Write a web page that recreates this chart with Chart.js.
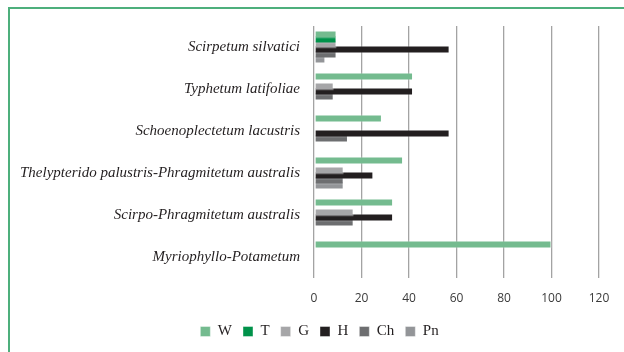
<!DOCTYPE html>
<html>
<head>
<meta charset="utf-8">
<script src="https://cdn.jsdelivr.net/npm/chart.js@4/dist/chart.umd.min.js"></script>
<style>
    html, body { margin: 0; padding: 0; background: #ffffff; }
    #frame {
        position: absolute;
        left: 8px;
        top: 7px;
        width: 614px;
        height: 343px;
        border-left: 2px solid #4daf7c;
        border-top: 2px solid #4daf7c;
    }
    #chartBox { position: relative; width: 614px; height: 343px; }
</style>
</head>
<body>
<div id="frame">
    <div id="chartBox"><canvas id="lifeFormChart"></canvas></div>
</div>
<script>
const associations = [
    'Scirpetum silvatici',
    'Typhetum latifoliae',
    'Schoenoplectetum lacustris',
    'Thelypterido palustris-Phragmitetum australis',
    'Scirpo-Phragmitetum australis',
    'Myriophyllo-Potametum'
];

const seriesW  = [9.5, 41.7, 28.6, 37.5, 33.3, 100];
const seriesT  = [9.5, null, null, null, null, null];
const seriesG  = [9.5, 8.3, null, 12.5, 16.7, null];
const seriesH  = [57.1, 41.7, 57.1, 25, 33.3, null];
const seriesCh = [9.5, 8.3, 14.3, 12.5, 16.7, null];
const seriesPn = [4.8, null, null, 12.5, null, null];

const xTicks = [0, 20, 40, 60, 80, 100, 120];

function makeSet(label, data, color) {
    return {
        label: label,
        data: data,
        backgroundColor: color,
        borderColor: 'rgba(255,255,255,0.4)',
        borderWidth: 1,
        borderSkipped: false,
        categoryPercentage: 0.714,
        barPercentage: 1.6
    };
}

// the legend sits a little right of the canvas centre
const legendShift = {
    id: 'legendShift',
    afterLayout: function (chart) {
        chart.legend.left += 15;
        chart.legend.right += 15;
    }
};

document.addEventListener("DOMContentLoaded", function () {
    const ctx = document.getElementById('lifeFormChart').getContext('2d');
    new Chart(ctx, {
        type: 'bar',
        data: {
            labels: associations,
            datasets: [
                makeSet('W', seriesW, '#74bb8f'),
                makeSet('T', seriesT, '#00924a'),
                makeSet('G', seriesG, '#a6a6a8'),
                makeSet('H', seriesH, '#231f20'),
                makeSet('Ch', seriesCh, '#6d6e70'),
                makeSet('Pn', seriesPn, '#939598')
            ]
        },
        plugins: [legendShift],
        options: {
            indexAxis: 'y',
            responsive: true,
            maintainAspectRatio: false,
            animation: false,
            layout: { padding: { top: 17, right: 25, bottom: 3, left: 0 } },
            plugins: {
                tooltip: { enabled: false },
                legend: {
                    position: 'bottom',
                    labels: {
                        font: { family: 'Liberation Serif', size: 15 },
                        color: '#231f20',
                        boxWidth: 10,
                        boxHeight: 10,
                        padding: 11
                    }
                }
            },
            scales: {
                x: {
                    min: 0,
                    max: 120,
                    afterBuildTicks: function (scale) {
                        scale.ticks = xTicks.map(v => ({ value: v }));
                    },
                    afterFit: function (scale) {
                        scale.height = 35;
                    },
                    grid: { color: '#a3a3a3', lineWidth: 1.3, drawTicks: false },
                    border: { display: false },
                    ticks: {
                        padding: 13,
                        color: '#3a3a3a',
                        font: { family: 'Open Sans', size: 12 }
                    }
                },
                y: {
                    afterFit: function (scale) {
                        scale.width = 304;
                    },
                    grid: { display: false },
                    border: { display: false },
                    ticks: {
                        padding: 6,
                        color: '#231f20',
                        font: { family: 'Liberation Serif', size: 15, style: 'italic' }
                    }
                }
            }
        }
    });
});
</script>
</body>
</html>
